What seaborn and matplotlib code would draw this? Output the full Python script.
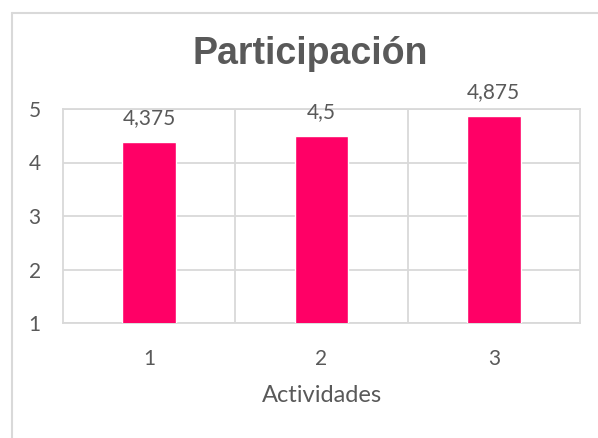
import matplotlib
matplotlib.use("Agg")
import matplotlib.pyplot as plt
from matplotlib.lines import Line2D
import seaborn as sns
import pandas as pd

categories = ["1", "2", "3"]
values = [4.375, 4.5, 4.875]
yticks = [1, 2, 3, 4, 5]
title = "Participación"
xlabel = "Actividades"

sns.set_theme(style="white")
plt.rcParams['font.family'] = ['Lato', 'DejaVu Sans']

TXT = "#595959"
GRID = "#D9D9D9"
BAR = "#FF0066"

df = pd.DataFrame({"Actividad": categories, "Valor": values})

fig = plt.figure(figsize=(5.98, 4.38), dpi=100)
ax = fig.add_axes([63/598, 1-323/438, (580-63)/598, (323-109)/438])

sns.barplot(data=df, x="Actividad", y="Valor", color=BAR, width=0.31,
            saturation=1, ax=ax, zorder=3)

ax.set_ylim(1, 5)
ax.set_xlim(-0.5, len(categories) - 0.5)
ax.set_yticks(yticks)
ax.set_yticklabels([str(t) for t in yticks])
ax.set_xticks(range(len(categories)))
ax.set_xticklabels(categories)
ax.set_xticks([i + 0.5 for i in range(len(categories) - 1)], minor=True)

ax.grid(axis="y", which="major", color=GRID, linewidth=1.3, zorder=0)
ax.grid(axis="x", which="minor", color=GRID, linewidth=1.3, zorder=0)
ax.grid(axis="x", which="major", visible=False)
for s in ax.spines.values():
    s.set_color(GRID)
    s.set_linewidth(1.3)

ax.tick_params(axis="both", which="both", length=0, colors=TXT, labelsize=15)
ax.tick_params(axis="y", pad=16)
ax.tick_params(axis="x", pad=19)
ax.set_ylabel("")
ax.set_xlabel(xlabel, fontsize=17, color=TXT, labelpad=11)

labels = [f"{v:g}".replace(".", ",") for v in values]
ax.bar_label(ax.containers[0], labels=labels, padding=10, fontsize=15, color=TXT)

fig.text(310/598, 1-54/438, title, ha="center", va="center", fontsize=27,
         fontweight="bold", color=TXT, family=["Liberation Sans", "DejaVu Sans"])

fig.add_artist(Line2D([11.5/598, 11.5/598], [0, 1-12.5/438], transform=fig.transFigure,
                      color=GRID, linewidth=1.5))
fig.add_artist(Line2D([11.5/598, 1], [1-12.5/438, 1-12.5/438], transform=fig.transFigure,
                      color=GRID, linewidth=1.5))

fig.savefig("out.png", dpi=100)
